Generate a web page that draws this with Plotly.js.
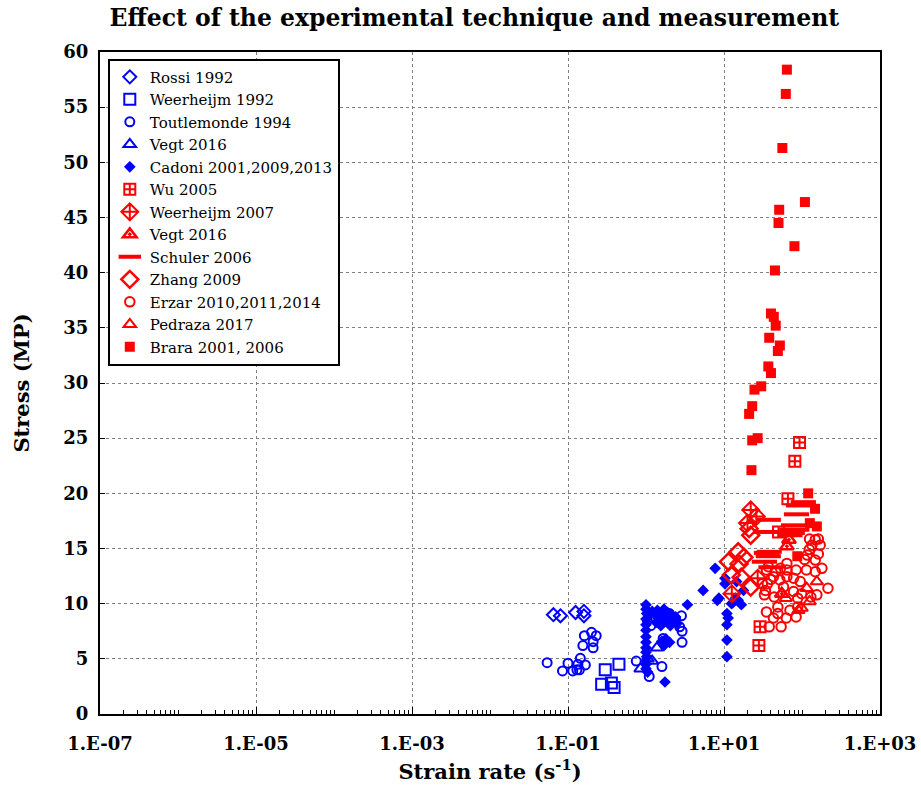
<!DOCTYPE html>
<html><head><meta charset="utf-8">
<script src="https://cdn.plot.ly/plotly-3.0.1.min.js"></script>
<style>html,body{margin:0;padding:0;background:#fff}#chart{width:921px;height:794px}</style>
</head><body><div id="chart"></div>
<script>
// ---- data (strain rate s^-1, stress MPa) ----
const rossiX = [0.065, 0.08, 0.125, 0.16, 0.16];
const rossiY = [9.0, 8.9, 9.2, 9.3, 8.9];

const weer92X = [0.30, 0.45, 0.27, 0.36, 0.39];
const weer92Y = [4.0, 4.5, 2.7, 2.8, 2.4];

const toutX = [0.054, 0.085, 0.10, 0.115, 0.134, 0.144, 0.14, 0.167, 0.13, 0.162, 0.155, 0.20, 0.23, 0.21, 0.21,
               0.75, 1.1, 1.6, 1.04, 2.85, 2.7, 2.9, 2.9, 1.66, 1.15, 2.4, 2.0];
const toutY = [4.65, 3.9, 4.6, 3.9, 4.5, 5.05, 4.0, 4.45, 4.0, 7.1, 6.2, 7.4, 7.1, 6.55, 6.0,
               4.8, 3.4, 4.3, 8.5, 8.9, 7.9, 7.5, 6.5, 6.85, 8.0, 8.6, 9.1];

const vegtBX = [0.85, 1.2, 1.38, 1.05];
const vegtBY = [4.1, 4.8, 6.0, 5.0];

const cadoniX = [1.0, 1.0, 1.02, 1.0, 1.0, 1.0, 1.0, 1.0, 1.0, 1.0, 1.02, 1.0, 1.0, 1.0, 1.05,
                 1.2, 1.3, 1.4, 1.5, 1.6, 1.7, 1.8, 1.9, 2.0, 2.1, 2.2, 2.4, 2.5, 1.35, 1.55, 1.75, 2.05,
                 1.6, 1.8, 2.0, 1.7, 1.75,
                 3.4, 5.4, 7.7, 8.2, 8.6, 10.3, 10.3, 14.5, 17.8, 15.2, 16.7, 12.5, 10.9, 11.3, 10.9, 10.9, 10.9, 13.0, 14.0];
const cadoniY = [9.9, 9.5, 9.1, 8.6, 8.1, 7.6, 7.0, 6.5, 6.0, 5.6, 5.2, 4.8, 4.5, 4.1, 3.8,
                 9.3, 9.0, 9.4, 8.8, 9.2, 9.5, 8.9, 9.2, 8.6, 9.0, 8.4, 8.8, 8.2, 8.3, 8.0, 8.5, 8.0,
                 6.6, 6.8, 6.5, 6.2, 2.9,
                 9.9, 11.2, 13.2, 10.3, 10.5, 12.3, 11.8, 12.0, 11.2, 10.3, 9.9, 10.0, 9.1, 8.7, 8.1, 6.7, 5.2, 10.1, 10.5];

const wuX = [93, 81, 66, 50, 29, 28];
const wuY = [24.6, 22.9, 19.5, 16.5, 7.9, 6.2];

const weer07X = [22, 26, 12.6, 27, 20];
const weer07Y = [18.5, 17.9, 10.9, 12.3, 17.3];

const vegtRX = [64, 55, 68];
const vegtRY = [15.2, 10.9, 15.8];

const schulerX = [104, 90, 85, 37, 35, 78, 74, 70, 35, 37, 33, 38, 40, 86, 75];
const schulerY = [19.2, 18.9, 18.1, 17.6, 16.5, 17.1, 16.7, 16.2, 14.6, 14.3, 13.8, 14.7, 13.3, 16.7, 16.4];

const zhangX = [21, 22, 15.2, 11.4, 15.6, 12.4, 16.6, 22, 18];
const zhangY = [16.8, 16.2, 14.7, 13.8, 13.6, 12.6, 12.4, 11.5, 14.2];

const erzarX = [148, 171, 134, 124, 162, 148, 108, 114, 64, 84, 64, 78, 148, 215, 155, 130, 99, 78, 88, 88, 84, 63, 54, 49, 49,
                44, 43, 38, 35, 34, 36, 33, 31, 35, 37, 46, 53, 64, 52, 43, 125, 162, 117, 70, 95, 180, 58, 40];
const erzarY = [15.8, 15.3, 15.3, 14.9, 14.5, 13.95, 14.0, 13.05, 13.65, 13.05, 13.05, 12.3, 12.9, 11.4, 10.8, 10.6, 10.9, 11.1, 10.5, 9.7, 8.8, 8.7, 7.9, 9.1, 9.7,
                10.6, 8.7, 7.9, 9.25, 11.2, 11.8, 10.8, 11.8, 13.05, 13.35, 12.9, 13.2, 12.45, 12.15, 12.45, 15.85, 15.85, 14.4, 9.4, 12.0, 13.2, 11.5, 12.2];

const pedrazaX = [115, 99, 155, 125, 90, 62];
const pedrazaY = [11.4, 9.6, 12.0, 10.2, 9.4, 10.5];

const braraX = [64, 62, 56, 109, 51, 50, 80, 45, 40, 43.5, 46, 38, 52, 49, 37, 40, 30, 24.6, 23, 21, 27, 23, 22.5,
                120, 147, 126, 155, 87];
const braraY = [58.4, 56.2, 51.3, 46.4, 45.7, 44.5, 42.4, 40.2, 36.3, 36.0, 35.2, 34.1, 33.4, 32.9, 31.5, 30.9, 29.7, 29.4, 27.9, 27.2, 25.0, 24.8, 22.1,
                20.0, 18.6, 17.3, 17.0, 14.3];

const xTickVals = [1e-7, 1e-5, 1e-3, 1e-1, 1e1, 1e3];
const xTickText = ['1.E-07', '1.E-05', '1.E-03', '1.E-01', '1.E+01', '1.E+03'];

const BLUE = '#0000FF', RED = '#FF0000';
function tr(name, x, y, symbol, color, size, lw) {
  return {type: 'scatter', mode: 'markers', name: name, x: x, y: y,
    marker: {symbol: symbol, color: color, size: size, line: {color: color, width: lw}}};
}
const data = [
  tr('Rossi 1992', rossiX, rossiY, 'diamond-open', BLUE, 10, 2),
  tr('Weerheijm 1992', weer92X, weer92Y, 'square-open', BLUE, 11, 2),
  tr('Toutlemonde 1994', toutX, toutY, 'circle-open', BLUE, 9, 2),
  tr('Vegt 2016', vegtBX, vegtBY, 'triangle-up-open', BLUE, 11, 2),
  tr('Cadoni 2001,2009,2013', cadoniX, cadoniY, 'diamond', BLUE, 9, 0),
  tr('Wu 2005', wuX, wuY, 'square-cross-open', RED, 11, 2),
  tr('Weerheijm 2007', weer07X, weer07Y, 'diamond-cross-open', RED, 13, 2),
  tr('Vegt 2016', vegtRX, vegtRY, 'triangle-up-open-dot', RED, 12, 2.5),
  tr('Schuler 2006', schulerX, schulerY, 'line-ew-open', RED, 18, 4),
  tr('Zhang 2009', zhangX, zhangY, 'diamond-open', RED, 13, 2.5),
  tr('Erzar 2010,2011,2014', erzarX, erzarY, 'circle-open', RED, 9.5, 2),
  tr('Pedraza 2017', pedrazaX, pedrazaY, 'triangle-up-open', RED, 11, 2),
  tr('Brara 2001, 2006', braraX, braraY, 'square', RED, 10, 0)
];

const F = 'DejaVu Serif, Liberation Serif, serif';
const layout = {
  width: 921, height: 794,
  paper_bgcolor: '#fff', plot_bgcolor: '#fff',
  margin: {l: 100, r: 41, t: 52, b: 80},
  font: {family: F, color: '#000'},
  title: {text: 'Effect of the experimental technique and measurement', x: 0.515, xanchor: 'center', y: 0.978, yanchor: 'middle',
          font: {family: F, size: 23.5, weight: 'bold', color: '#000'}},
  xaxis: {type: 'log', range: [-7, 3], tickvals: xTickVals, ticktext: xTickText,
          tickfont: {family: F, size: 18, weight: 'bold'}, ticklabelstandoff: 12,
          showline: true, linecolor: '#000', linewidth: 2, mirror: true,
          ticks: 'inside', ticklen: 7, tickcolor: '#000',
          minor: {ticks: 'inside', ticklen: 4, tickcolor: '#000', dtick: 'D1', showgrid: false},
          showgrid: true, gridcolor: '#808080', griddash: 'dot', gridwidth: 1, zeroline: false,
          title: {text: 'Strain rate (s<sup>-1</sup>)', standoff: 12, font: {family: F, size: 21, weight: 'bold'}}},
  yaxis: {range: [0, 60], dtick: 5, tick0: 0,
          tickfont: {family: F, size: 18, weight: 'bold'}, ticklabelstandoff: 6,
          showline: true, linecolor: '#000', linewidth: 2, mirror: true,
          ticks: 'inside', ticklen: 5, tickcolor: '#000',
          showgrid: true, gridcolor: '#808080', griddash: 'dot', gridwidth: 1, zeroline: false,
          title: {text: 'Stress (MP)', standoff: 28, font: {family: F, size: 21, weight: 'bold'}}},
  showlegend: true,
  legend: {x: 0.01, y: 0.99, xanchor: 'left', yanchor: 'top', bgcolor: '#fff', bordercolor: '#000', borderwidth: 2,
           font: {family: F, size: 15, color: '#000'}, tracegroupgap: 0, itemwidth: 30}
};
Plotly.newPlot('chart', data, layout, {displayModeBar: false, staticPlot: true});
</script>
</body></html>
